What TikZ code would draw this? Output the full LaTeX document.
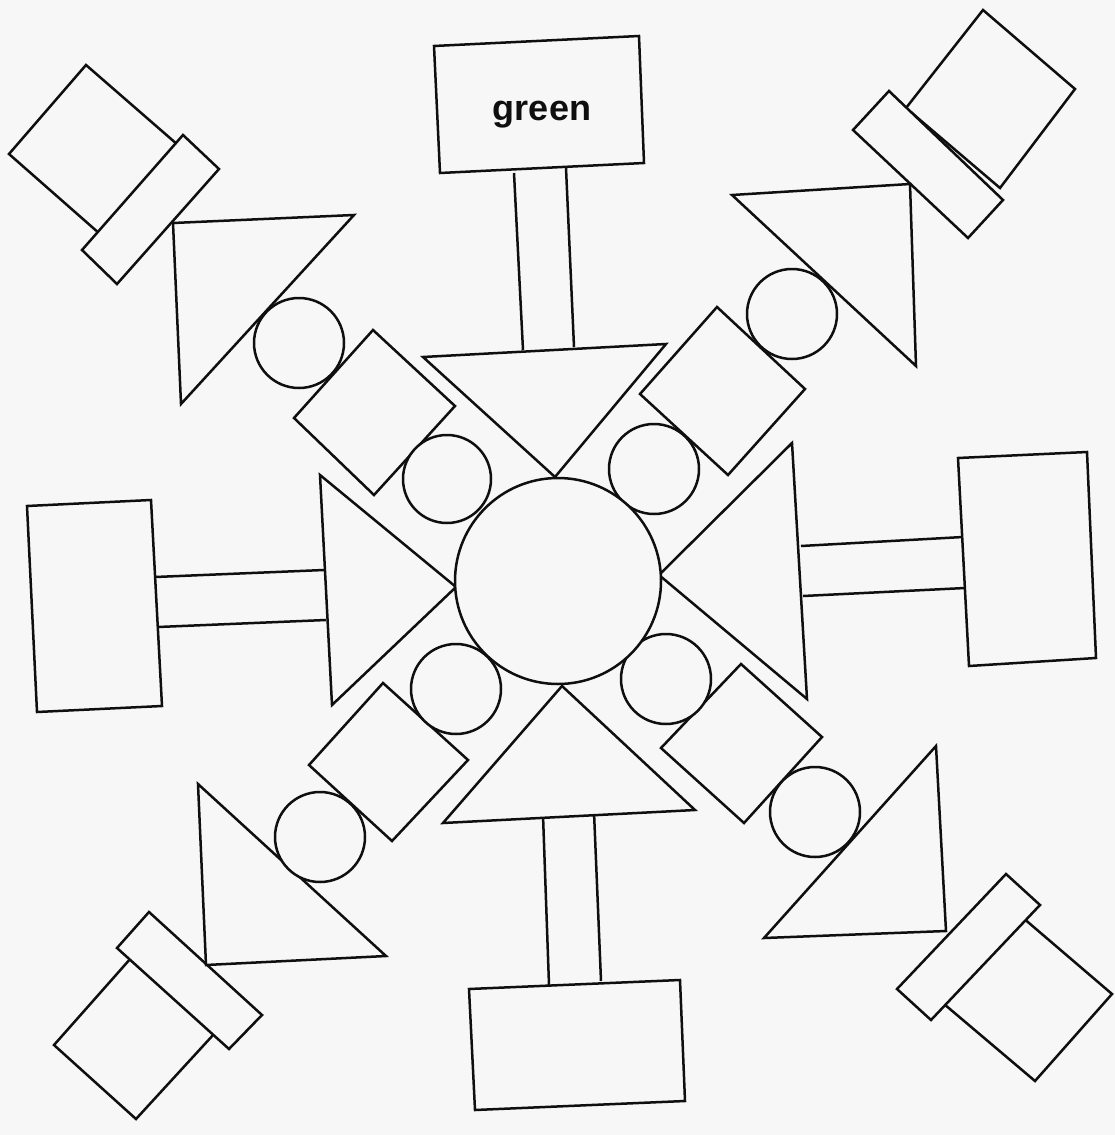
\documentclass[tikz,border=0pt]{standalone}
\usepackage{fontspec}
\setmainfont{Liberation Sans}
\definecolor{paper}{RGB}{247,247,247}
\definecolor{ink}{RGB}{15,15,15}
\begin{document}
\begin{tikzpicture}[x=1pt,y=-1pt,
  shp/.style={draw=ink, fill=paper, line width=2.5pt, line join=miter},
  ln/.style={draw=ink, line width=2.5pt}]
\fill[paper] (0,0) rectangle (1115,1135);
\useasboundingbox (0,0) rectangle (1115,1135);

% ---------- stems ----------
\draw[ln] (514,173) -- (523,350);
\draw[ln] (566,168) -- (574,347);
\draw[ln] (155,577) -- (324,570);
\draw[ln] (158,627) -- (326,620);
\draw[ln] (801,546) -- (963,537);
\draw[ln] (803,596) -- (965,588);
\draw[ln] (543,815) -- (549,985);
\draw[ln] (594,812) -- (601,981);

% ---------- end boxes ----------
\draw[shp] (434,46) -- (639,36) -- (644,163) -- (440,173) -- cycle;
\node[anchor=base, inner sep=0pt, font=\fontsize{36}{36}\bfseries, text=ink] (green) at (542,120) {green};
\draw[shp] (27,506) -- (151,500) -- (162,706) -- (37,712) -- cycle;
\draw[shp] (958,458) -- (1087,452) -- (1096,658) -- (969,666) -- cycle;
\draw[shp] (469,989) -- (680,980) -- (685,1101) -- (475,1110) -- cycle;

% ---------- corner squares with bars ----------
\draw[shp] (86,65) -- (178,145) -- (100,234) -- (9,154) -- cycle;
\draw[shp] (183,135) -- (219,169) -- (117,284) -- (82,250) -- cycle;

\draw[shp] (983,10) -- (1075,89) -- (1000,188) -- (906,108) -- cycle;
\draw[shp] (889,91) -- (1003,200) -- (968,238) -- (853,130) -- cycle;

\draw[shp] (131,958) -- (214,1034) -- (136,1119) -- (54,1045) -- cycle;
\draw[shp] (149,912) -- (262,1015) -- (229,1049) -- (117,948) -- cycle;

\draw[shp] (1022,917) -- (1112,994) -- (1035,1081) -- (944,1004) -- cycle;
\draw[shp] (1006,874) -- (1040,905) -- (931,1020) -- (897,989) -- cycle;

% ---------- diagonal triangles ----------
\draw[shp] (173,223) -- (354,215) -- (181,404) -- cycle;
\draw[shp] (732,195) -- (910,184) -- (916,366) -- cycle;
\draw[shp] (198,784) -- (386,956) -- (206,965) -- cycle;
\draw[shp] (936,746) -- (946,931) -- (764,938) -- cycle;

% ---------- diagonal rectangles ----------
\draw[shp] (373,330) -- (455,406) -- (374,495) -- (294,418) -- cycle;
\draw[shp] (717,307) -- (805,389) -- (728,475) -- (640,394) -- cycle;
\draw[shp] (383,683) -- (468,760) -- (392,841) -- (309,765) -- cycle;
\draw[shp] (741,664) -- (822,737) -- (744,823) -- (661,748) -- cycle;

% ---------- axis triangles ----------
\draw[shp] (423,357) -- (666,344) -- (555,477) -- cycle;
\draw[shp] (320,475) -- (456,587) -- (332,705) -- cycle;
\draw[shp] (792,443) -- (807,699) -- (659,575) -- cycle;
\draw[shp] (562,686) -- (695,810) -- (443,823) -- cycle;

% ---------- circles ----------
\draw[shp] (299,343) circle[radius=45];
\draw[shp] (792,314) circle[radius=45];
\draw[shp] (320,837) circle[radius=45];
\draw[shp] (815,812) circle[radius=45];
\draw[shp] (447,479) circle[radius=44];
\draw[shp] (654,469) circle[radius=45];
\draw[shp] (456,689) circle[radius=45];
\draw[shp] (666,679) circle[radius=45];
\draw[shp] (558,581) circle[radius=103];
\end{tikzpicture}
\end{document}
